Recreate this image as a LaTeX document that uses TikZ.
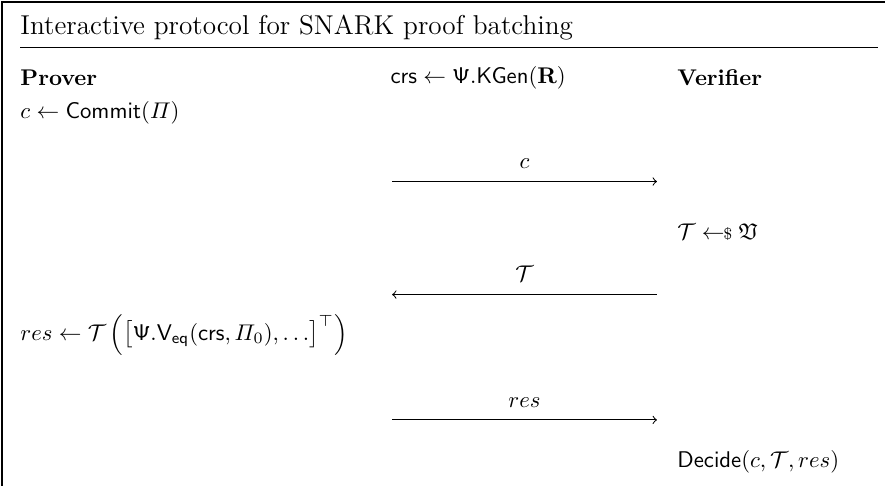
\documentclass[tikz,border=0pt]{standalone}
\usepackage{amsmath,amssymb}
\usetikzlibrary{positioning}

\begin{document}
\begin{tikzpicture}[
    txt/.style={anchor=west, inner sep=0pt},
    msg/.style={->, line width=0.45pt}
  ]
        \useasboundingbox (0, 0) rectangle (13.70, 7.52);

        % Frame and title
        \draw[line width=0.5pt] (0.03, 0) -- (0.03, 7.49) -- (13.70, 7.49);
        \node[txt, font=\large] (title) at (0.31, 7.09) {Interactive protocol for SNARK proof batching};
        \draw[line width=0.5pt] (0.31, 6.78) -- (13.59, 6.78);

        % Parties and setup
        \node[txt] (prover) at (0.31, 6.32) {\textbf{Prover}};
        \node[txt] (setup) at (6.04, 6.32) {$\mathsf{crs} \leftarrow \mathsf{\Psi}.\mathsf{KGen}(\mathbf{R})$};
        \node[txt] (verifier) at (10.48, 6.32) {\textbf{Verifier}};

        % Round 1: commitment
        \node[txt] (commit) at (0.31, 5.77) {$c \leftarrow \mathsf{Commit}(\varPi)$};
        \coordinate (m1s) at (6.07, 4.71);
        \coordinate (m1e) at (10.17, 4.71);
        \draw[msg] (m1s) -- (m1e) node[midway, above=2pt] (m1) {$c$};

        % Round 2: challenge
        \node[txt] (sample) at (10.48, 3.92) {$\mathcal{T} \mathrel{\leftarrow\!\!{\scriptstyle\$}} \mathfrak{V}$};
        \coordinate (m2s) at (10.17, 2.96);
        \coordinate (m2e) at (6.07, 2.96);
        \draw[msg] (m2s) -- (m2e) node[midway, above=2pt] (m2) {$\mathcal{T}$};

        % Round 3: response
        \node[txt] (resp) at (0.31, 2.34) {$res \leftarrow \mathcal{T}\,\Bigl(\bigl[\mathsf{\Psi}.\mathsf{V}_{\mathsf{eq}}(\mathsf{crs}, \varPi_0), \ldots\bigr]^{\top}\Bigr)$};
        \coordinate (m3s) at (6.07, 1.02);
        \coordinate (m3e) at (10.17, 1.02);
        \draw[msg] (m3s) -- (m3e) node[midway, above=2pt] (m3) {$res$};

        % Decision
        \node[txt] (decide) at (10.48, 0.37) {$\mathsf{Decide}(c, \mathcal{T}, res)$};
    \end{tikzpicture}
\end{document}
